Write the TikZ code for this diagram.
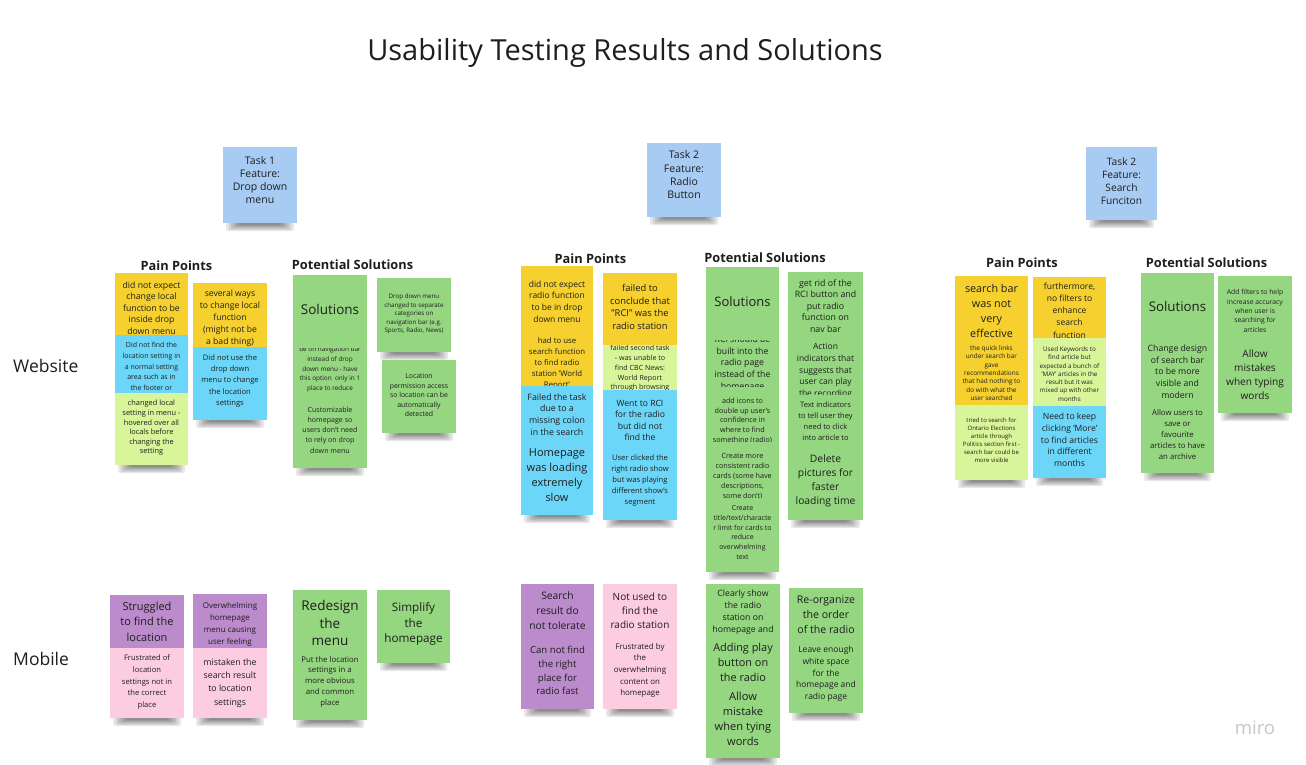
\documentclass[tikz,border=0pt]{standalone}
\usepackage{fontspec}
\setmainfont{Open Sans}
\begin{document}
% sticky-note colours
\definecolor{ink}{HTML}{1E1E1E}
\definecolor{yellownote}{HTML}{F5D02E}
\definecolor{bluenote}{HTML}{6CD6F8}
\definecolor{limenote}{HTML}{D9F59A}
\definecolor{greennote}{HTML}{95D680}
\definecolor{purplenote}{HTML}{BB8BCB}
\definecolor{pinknote}{HTML}{FCCCE0}
\definecolor{taskblue}{HTML}{A8CBF4}
\tikzset{
  notetext/.style={align=center, text=ink, inner sep=0pt},
  hdr/.style={font=\bfseries\fontsize{12.8}{15}\selectfont, text=ink, inner sep=0pt},
  rowlabel/.style={font=\fontsize{17.5}{20}\selectfont, text=ink, anchor=west, inner sep=0pt},
  boardtitle/.style={font=\fontsize{29}{34}\selectfont, text=ink, inner sep=0pt},
}
% a sticky note: name, x1, y1, x2, y2 (visible part), colour, {size}{pitch}, text centre y, text
\newcommand\sticky[9]{%
  \fill[#6] (#2,#3) rectangle (#4,#5);
  \begin{scope}
    \clip (#2,#3) rectangle (#4,#5);
    \node[notetext, font=\fontsize#7\selectfont] (#1) at ({(#2+#4)/2},#8) {#9};
  \end{scope}}
% soft shadow under the lowest note of a stack: x1, x2, bottom y
\newcommand\noteshadow[3]{%
  \foreach \k in {0,...,5}{
    \fill[black, opacity=0.09, rounded corners=2pt]
      ({#1+3+2.5*\k},{#3-4}) rectangle ({#2-3-2.5*\k},{#3+8-1.2*\k});
  }}
\begin{tikzpicture}[x=1pt, y=-1pt]
\useasboundingbox (0,0) rectangle (1306,765);
\fill[white] (0,0) rectangle (1306,765);

\node[boardtitle] (title) at (625,53) {Usability Testing Results and Solutions};
\node[rowlabel] (website) at (13,366) {Website};
\node[rowlabel] (mobile) at (13,659) {Mobile};
\node[font=\fontsize{18.5}{20}\selectfont, text=black!22, inner sep=0pt] (logo) at (1255,728) {miro};

% shadows
\noteshadow{223}{297}{223}\noteshadow{647}{721}{217}\noteshadow{1086}{1157}{220}
\noteshadow{115}{188}{465}\noteshadow{193}{267}{420}\noteshadow{293}{367}{468}
\noteshadow{377}{451}{352}\noteshadow{382}{456}{433}
\noteshadow{521}{593}{515}\noteshadow{603}{677}{520}\noteshadow{706}{779}{572}\noteshadow{788}{863}{520}
\noteshadow{955}{1028}{480}\noteshadow{1033}{1106}{478}\noteshadow{1141}{1214}{473}\noteshadow{1218}{1292}{413}
\noteshadow{110}{184}{718}\noteshadow{193}{267}{718}\noteshadow{293}{367}{720}\noteshadow{377}{450}{663}
\noteshadow{521}{594}{709}\noteshadow{603}{677}{709}\noteshadow{706}{780}{758}\noteshadow{789}{863}{713}

% task cards
\sticky{task1}{223}{147}{297}{223}{taskblue}{{10.5}{13}}{180.5}{Task 1\\Feature:\\Drop down\\menu}
\sticky{task2}{647}{143}{721}{217}{taskblue}{{10.5}{13.3}}{175}{Task 2\\Feature:\\Radio\\Button}
\sticky{task3}{1086}{147}{1157}{220}{taskblue}{{10.2}{13}}{181}{Task 2\\Feature:\\Search\\Funciton}

% column headers
\node[hdr] (pp1) at (176.5,266) {Pain Points};
\node[hdr] (ps1) at (352.5,265) {Potential Solutions};
\node[hdr] (pp2) at (590.5,259) {Pain Points};
\node[hdr] (ps2) at (765,258) {Potential Solutions};
\node[hdr] (pp3) at (1022,263) {Pain Points};
\node[hdr] (ps3) at (1206.5,263) {Potential Solutions};

% task 1, website
\sticky{tA1}{115}{273}{188}{335}{yellownote}{{8.7}{11.5}}{308}{did not expect\\change local\\function to be\\inside drop\\down menu}
\sticky{tA2}{115}{335}{188}{393}{bluenote}{{7}{10.8}}{366.5}{Did not find the\\location setting in\\a normal setting\\area such as in\\the footer or}
\sticky{tA3}{115}{393}{188}{465}{limenote}{{7.4}{9.6}}{428}{changed local\\setting in menu -\\hovered over all\\locals before\\changing the\\setting}
\sticky{tB1}{193}{283}{267}{347}{yellownote}{{8.6}{12}}{318}{several ways\\to change local\\function\\(might not be\\a bad thing)}
\sticky{tB2}{193}{347}{267}{420}{bluenote}{{7.6}{11.1}}{381}{Did not use the\\drop down\\menu to change\\the location\\settings}
\sticky{sA1}{293}{275}{367}{348}{greennote}{{13.5}{16}}{309}{Solutions}
\sticky{sA2}{293}{348}{367}{393}{greennote}{{6.4}{9.8}}{369.5}{be on navigation bar\\instead of drop\\down menu - have\\this option\ \ only in 1\\place to reduce}
\sticky{sA3}{293}{393}{367}{468}{greennote}{{7.1}{10.2}}{430}{Customizable\\homepage so\\users don't need\\to rely on drop\\down menu}
\sticky{sB1}{377}{278}{451}{352}{greennote}{{6.2}{8.6}}{314}{Drop down menu\\changed to separate\\categories on\\navigation bar (e.g.\\Sports, Radio, News)}
\sticky{sB2}{382}{360}{456}{433}{greennote}{{6.9}{9.5}}{395}{Location\\permission access\\so location can be\\automatically\\detected}

% task 2, website
\sticky{pA1}{521}{266}{593}{328}{yellownote}{{8.5}{11.6}}{301.5}{did not expect\\radio function\\to be in drop\\down menu}
\sticky{pA2}{521}{328}{593}{386}{yellownote}{{7.8}{11}}{363}{had to use\\search function\\to find radio\\station 'World\\Report'}
\sticky{pA3}{521}{386}{593}{442}{bluenote}{{8.8}{11.7}}{414.5}{Failed the task\\due to a\\missing colon\\in the search}
\sticky{pA4}{521}{442}{593}{515}{bluenote}{{11}{15}}{475.5}{Homepage\\was loading\\extremely\\slow}
\sticky{pB1}{603}{273}{677}{345}{yellownote}{{9.4}{12.7}}{307}{failed to\\conclude that\\"RCI" was the\\radio station}
\sticky{pB2}{603}{345}{677}{390}{limenote}{{7.1}{9.8}}{368.5}{failed second task\\- was unable to\\find CBC News:\\World Report\\through browsing}
\sticky{pB3}{603}{390}{677}{447}{bluenote}{{8.6}{11.4}}{420.5}{Went to RCI\\for the radio\\but did not\\find the}
\sticky{pB4}{603}{447}{677}{520}{bluenote}{{7.6}{11}}{481}{User clicked the\\right radio show\\but was playing\\different show's\\segment}
\sticky{rA1}{706}{267}{779}{340}{greennote}{{13}{16}}{302}{Solutions}
\sticky{rA2}{706}{340}{779}{387}{greennote}{{8.7}{11.7}}{363.5}{RCI should be\\built into the\\radio page\\instead of the\\homepage}
\sticky{rA3}{706}{387}{779}{442}{greennote}{{7.2}{9.8}}{421}{add icons to\\double up user's\\confidence in\\where to find\\something (radio)}
\sticky{rA4}{706}{442}{779}{498}{greennote}{{7.2}{9.8}}{476.5}{Create more\\consistent radio\\cards (some have\\descriptions,\\some don't)}
\sticky{rA5}{706}{498}{779}{572}{greennote}{{7}{9.8}}{532.5}{Create\\title/text/characte\\r limit for cards to\\reduce\\overwhelming\\text}
\sticky{rB1}{788}{272}{863}{335}{greennote}{{8.8}{11.5}}{306}{get rid of the\\RCI button and\\put radio\\function on\\nav bar}
\sticky{rB2}{788}{335}{863}{395}{greennote}{{8.5}{11.8}}{371}{Action\\indicators that\\suggests that\\user can play\\the recording}
\sticky{rB3}{788}{395}{863}{447}{greennote}{{7.5}{11}}{421.5}{Text indicators\\to tell user they\\need to click\\into article to}
\sticky{rB4}{788}{447}{863}{520}{greennote}{{10.3}{13.9}}{481}{Delete\\pictures for\\faster\\loading time}

% task 3, website
\sticky{xA1}{955}{276}{1028}{339}{yellownote}{{10.8}{15}}{310.5}{search bar\\was not\\very\\effective}
\sticky{xA2}{955}{339}{1028}{405}{yellownote}{{6.4}{8.3}}{373}{the quick links\\under search bar\\gave\\recommendations\\that had nothing to\\do with what the\\user searched}
\sticky{xA3}{955}{405}{1028}{480}{limenote}{{6}{8}}{440.7}{tried to search for\\Ontario Elections\\article through\\Politics section first -\\search bar could be\\more visible}
\sticky{xB1}{1033}{277}{1106}{338}{yellownote}{{8.5}{12.25}}{310.5}{furthermore,\\no filters to\\enhance\\search\\function}
\sticky{xB2}{1033}{338}{1106}{406}{limenote}{{6.3}{8.3}}{374}{Used Keywords to\\find article but\\expected a bunch of\\'MAY' articles in the\\result but it was\\mixed up with other\\months}
\sticky{xB3}{1033}{406}{1106}{478}{bluenote}{{8.6}{11.7}}{440}{Need to keep\\clicking 'More'\\to find articles\\in different\\months}
\sticky{yA1}{1141}{273}{1214}{337}{greennote}{{13.3}{16}}{307}{Solutions}
\sticky{yA2}{1141}{337}{1214}{400}{greennote}{{8.7}{11.7}}{371.5}{Change design\\of search bar\\to be more\\visible and\\modern}
\sticky{yA3}{1141}{400}{1214}{473}{greennote}{{7.8}{11}}{435}{Allow users to\\save or\\favourite\\articles to have\\an archive}
\sticky{yB1}{1218}{276}{1292}{338}{greennote}{{6.8}{9.4}}{311}{Add filters to help\\increase accuracy\\when user is\\searching for\\articles}
\sticky{yB2}{1218}{338}{1292}{413}{greennote}{{10.1}{14.1}}{374.5}{Allow\\mistakes\\when typing\\words}

% mobile, task 1
\sticky{mA1}{110}{595}{184}{648}{purplenote}{{11}{15.5}}{621.5}{Struggled\\to find the\\location}
\sticky{mA2}{110}{648}{184}{718}{pinknote}{{7.6}{11.7}}{682}{Frustrated of\\location\\settings not in\\the correct\\place}
\sticky{mB1}{193}{594}{267}{648}{purplenote}{{8}{11.9}}{624.5}{Overwhelming\\homepage\\menu causing\\user feeling}
\sticky{mB2}{193}{648}{267}{718}{pinknote}{{8.8}{13.3}}{683}{mistaken the\\search result\\to location\\settings}
\sticky{nA1}{293}{590}{367}{648}{greennote}{{13.5}{17.5}}{623}{Redesign\\the\\menu}
\sticky{nA2}{293}{648}{367}{720}{greennote}{{7.8}{10.8}}{681.7}{Put the location\\settings in a\\more obvious\\and common\\place}
\sticky{nB1}{377}{590}{450}{663}{greennote}{{11.7}{15.3}}{624}{Simplify\\the\\homepage}

% mobile, task 2
\sticky{vA1}{521}{584}{594}{635}{purplenote}{{10.3}{15}}{611}{Search\\result do\\not tolerate}
\sticky{vA2}{521}{635}{594}{709}{purplenote}{{9.6}{13.9}}{670.5}{Can not find\\the right\\place for\\radio fast}
\sticky{vB1}{603}{584}{677}{635}{pinknote}{{10}{14.2}}{610.5}{Not used to\\find the\\radio station}
\sticky{vB2}{603}{635}{677}{709}{pinknote}{{7.9}{11.7}}{670.5}{Frustrated by\\the\\overwhelming\\content on\\homepage}
\sticky{wA1}{706}{584}{780}{635}{greennote}{{8.7}{11.9}}{612.5}{Clearly show\\the radio\\station on\\homepage and}
\sticky{wA2}{706}{635}{780}{684}{greennote}{{10.9}{15.3}}{662.5}{Adding play\\button on\\the radio}
\sticky{wA3}{706}{684}{780}{758}{greennote}{{11.1}{15.2}}{719}{Allow\\mistake\\when tying\\words}
\sticky{wB1}{789}{588}{863}{640}{greennote}{{10.6}{15}}{614.7}{Re-organize\\the order\\of the radio}
\sticky{wB2}{789}{640}{863}{713}{greennote}{{8.5}{11.7}}{674}{Leave enough\\white space\\for the\\homepage and\\radio page}
\end{tikzpicture}
\end{document}
